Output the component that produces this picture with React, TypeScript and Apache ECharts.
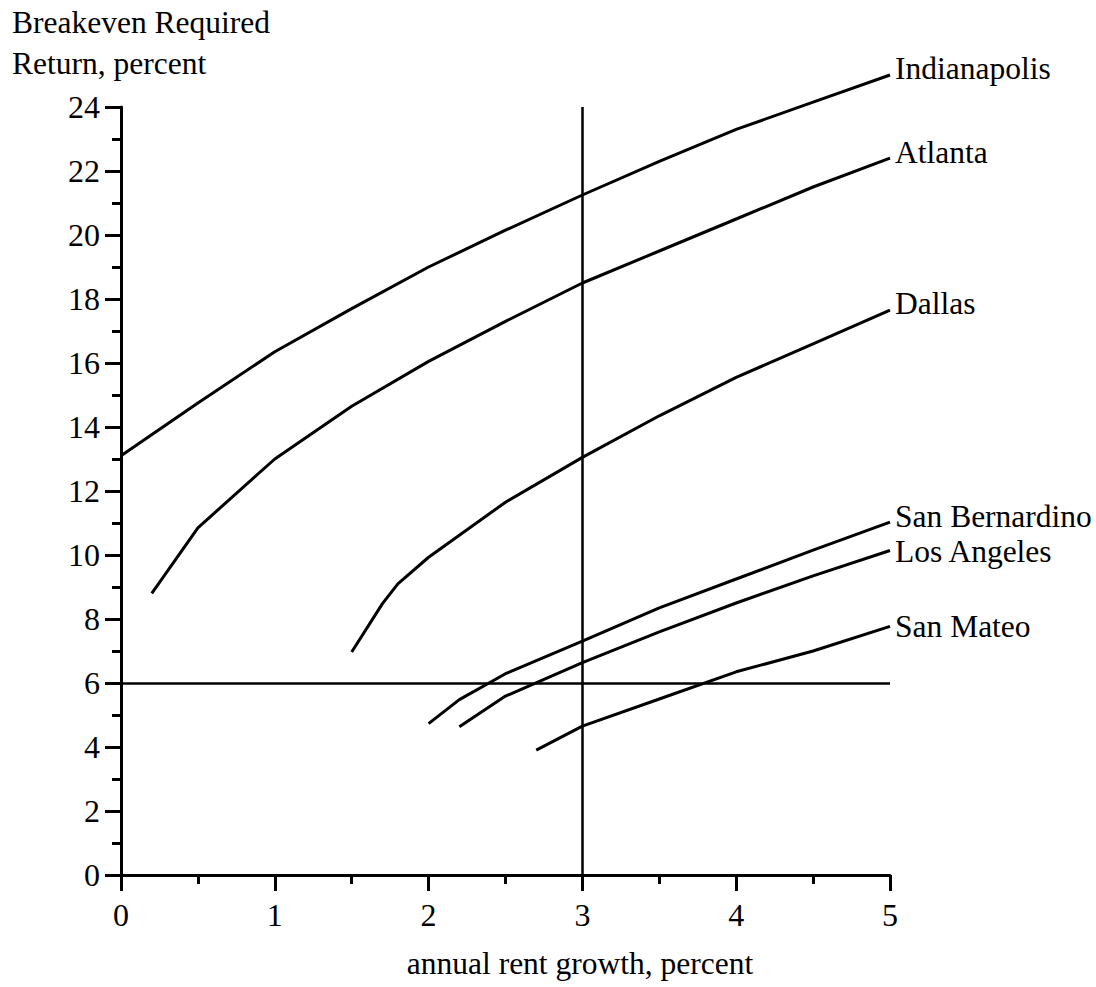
import React, { useEffect, useRef } from "react";
import * as echarts from "echarts";

const FONT = "'Liberation Serif', 'Times New Roman', serif";

const xTicks = [0, 1, 2, 3, 4, 5];
const yTicks = [0, 2, 4, 6, 8, 10, 12, 14, 16, 18, 20, 22, 24];

const indianapolisX = [0, 0.5, 1, 1.5, 2, 2.5, 3, 3.5, 4, 4.5, 5];
const indianapolisY = [13.1, 14.75, 16.35, 17.7, 19.0, 20.15, 21.25, 22.3, 23.3, 24.15, 25.0];

const atlantaX = [0.2, 0.5, 1, 1.5, 2, 2.5, 3, 3.5, 4, 4.5, 5];
const atlantaY = [8.8, 10.85, 13.0, 14.65, 16.05, 17.3, 18.5, 19.5, 20.5, 21.5, 22.4];

const dallasX = [1.5, 1.7, 1.8, 2, 2.5, 3, 3.5, 4, 4.5, 5];
const dallasY = [6.97, 8.48, 9.1, 9.93, 11.65, 13.05, 14.35, 15.55, 16.6, 17.65];

const sanBernardinoX = [2.0, 2.2, 2.5, 3, 3.5, 4, 4.5, 5];
const sanBernardinoY = [4.73, 5.48, 6.29, 7.31, 8.35, 9.25, 10.15, 11.03];

const losAngelesX = [2.2, 2.5, 3, 3.5, 4, 4.5, 5];
const losAngelesY = [4.63, 5.59, 6.64, 7.6, 8.5, 9.35, 10.14];

const sanMateoX = [2.7, 3, 3.5, 4, 4.5, 5];
const sanMateoY = [3.9, 4.65, 5.5, 6.35, 7.0, 7.77];

const refX = 3;
const refY = 6;

const seriesDefs = [
  { name: "Indianapolis", xs: indianapolisX, ys: indianapolisY, dy: -7 },
  { name: "Atlanta", xs: atlantaX, ys: atlantaY, dy: -6 },
  { name: "Dallas", xs: dallasX, ys: dallasY, dy: -7 },
  { name: "San Bernardino", xs: sanBernardinoX, ys: sanBernardinoY, dy: -6 },
  { name: "Los Angeles", xs: losAngelesX, ys: losAngelesY, dy: 1 },
  { name: "San Mateo", xs: sanMateoX, ys: sanMateoY, dy: 0 },
];

export default function App() {
  const ref = useRef<HTMLDivElement>(null);
  useEffect(() => {
    document.body.style.margin = "0";
    if (!ref.current) return;
    const chart = echarts.init(ref.current, null, { renderer: "svg" });
    const series: any[] = seriesDefs.map((s, i) => ({
      name: s.name,
      type: "line",
      data: s.xs.map((x, j) => [x, s.ys[j]]),
      showSymbol: false,
      symbol: "none",
      clip: false,
      lineStyle: { color: "#000", width: 3 },
      endLabel: {
        show: true,
        formatter: s.name,
        fontFamily: FONT,
        fontSize: 31.5,
        color: "#000",
        distance: 5,
        offset: [0, s.dy],
      },
      ...(i === 0
        ? {
            markLine: {
              silent: true,
              symbol: "none",
              label: { show: false },
              lineStyle: { color: "#000", width: 2.5, type: "solid" },
              data: [{ xAxis: refX }, { yAxis: refY }],
            },
          }
        : {}),
    }));
    chart.setOption({
      animation: false,
      backgroundColor: "#fff",
      grid: { left: 121, right: 206, top: 107, bottom: 112 },
      graphic: [
        {
          type: "text",
          x: 12,
          y: 22.5,
          style: {
            text: "Breakeven Required",
            fontFamily: FONT,
            fontSize: 31.5,
            fill: "#000",
            verticalAlign: "middle",
          },
        },
        {
          type: "text",
          x: 12,
          y: 63.5,
          style: {
            text: "Return, percent",
            fontFamily: FONT,
            fontSize: 31.5,
            fill: "#000",
            verticalAlign: "middle",
          },
        },
        {
          type: "text",
          x: 580,
          y: 963,
          style: {
            text: "annual rent growth, percent",
            fontFamily: FONT,
            fontSize: 31.5,
            fill: "#000",
            align: "center",
            verticalAlign: "middle",
          },
        },
      ],
      xAxis: {
        type: "value",
        min: xTicks[0],
        max: xTicks[xTicks.length - 1],
        interval: 1,
        axisLine: { show: true, lineStyle: { color: "#000", width: 3 } },
        axisTick: { show: true, length: 16, lineStyle: { color: "#000", width: 3 } },
        minorTick: { show: true, splitNumber: 2, length: 9, lineStyle: { color: "#000", width: 3 } },
        splitLine: { show: false },
        axisLabel: {
          fontFamily: FONT,
          fontSize: 32,
          color: "#000",
          margin: 24,
          formatter: (v: number) => (xTicks.includes(v) ? String(v) : ""),
        },
      },
      yAxis: {
        type: "value",
        min: yTicks[0],
        max: yTicks[yTicks.length - 1],
        interval: 2,
        axisLine: { show: true, lineStyle: { color: "#000", width: 3 } },
        axisTick: { show: true, length: 16, lineStyle: { color: "#000", width: 3 } },
        minorTick: { show: true, splitNumber: 2, length: 9, lineStyle: { color: "#000", width: 3 } },
        splitLine: { show: false },
        axisLabel: {
          fontFamily: FONT,
          fontSize: 32,
          color: "#000",
          margin: 21,
          formatter: (v: number) => (yTicks.includes(v) ? String(v) : ""),
        },
      },
      series,
    });
    return () => chart.dispose();
  }, []);
  return <div ref={ref} style={{ width: 1096, height: 987 }} />;
}
